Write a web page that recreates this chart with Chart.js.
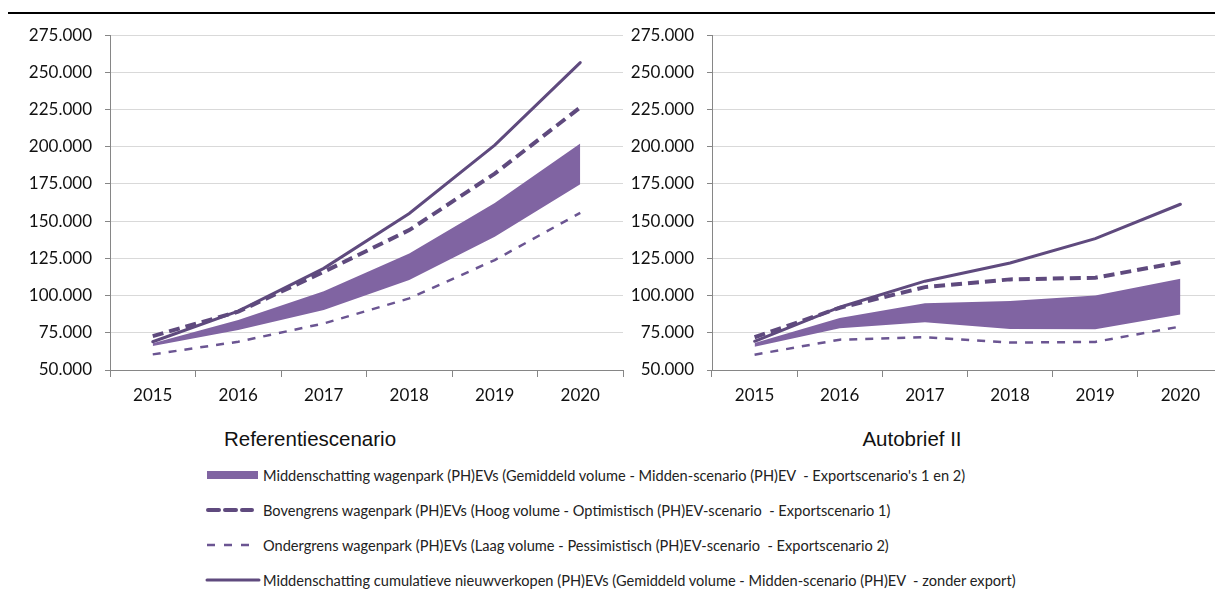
<!DOCTYPE html>
<html>
<head>
<meta charset="utf-8">
<script src="https://cdn.jsdelivr.net/npm/chart.js@4.4.1/dist/chart.umd.min.js"></script>
<style>
  html, body { margin: 0; padding: 0; background: #fff; overflow: hidden; }
  body { width: 1215px; height: 591px; position: relative; font-family: Lato, "Liberation Sans", sans-serif; }
  .topline { position: absolute; left: 8px; top: 12px; width: 1207px; height: 0; border-top: 2px solid #000; }
  canvas { position: absolute; }
  .title { position: absolute; top: 427px; font-family: "Liberation Sans", Arial, sans-serif; font-size: 20.5px; color: #111; transform: translateX(-50%); white-space: nowrap; }
  .legend { position: absolute; left: 205px; top: 463px; }
  .legend .row { position: absolute; left: 0; height: 24px; display: flex; align-items: center; white-space: pre; font-size: 14.6px; color: #222; }
  .legend svg { width: 58px; height: 14px; }
</style>
</head>
<body>
<div class="topline"></div>
<canvas id="chart-ref" width="640" height="408" style="left:0;top:12px"></canvas>
<canvas id="chart-ab" width="640" height="408" style="left:600px;top:12px"></canvas>
<div class="title" style="left:310px">Referentiescenario</div>
<div class="title" style="left:912px">Autobrief II</div>
<div class="legend" id="legend"></div>
<script>
/* global Chart */

const years = ["2015", "2016", "2017", "2018", "2019", "2020"];

// Referentiescenario
const refBandLow = [66100, 76900, 90300, 110400, 139500, 174900];
const refBandHigh = [67900, 83600, 103000, 128300, 162300, 202200];
const refUpper = [72800, 89200, 116000, 144000, 182000, 226500];
const refLower = [60500, 69000, 81300, 98100, 123900, 155600];
const refCumulative = [69000, 89600, 118300, 155200, 201100, 256600];

// Autobrief II
const abBandLow = [65700, 78100, 82100, 77600, 77400, 87300];
const abBandHigh = [68200, 85000, 94900, 96300, 100100, 111300];
const abUpper = [72000, 91800, 105700, 110900, 112000, 122500];
const abLower = [60300, 70400, 72000, 68400, 68900, 79200];
const abCumulative = [69300, 92200, 109700, 121900, 138300, 161400];

const legendLabels = [
  "Middenschatting wagenpark (PH)EVs (Gemiddeld volume - Midden-scenario (PH)EV  - Exportscenario's 1 en 2)",
  "Bovengrens wagenpark (PH)EVs (Hoog volume - Optimistisch (PH)EV-scenario  - Exportscenario 1)",
  "Ondergrens wagenpark (PH)EVs (Laag volume - Pessimistisch (PH)EV-scenario  - Exportscenario 2)",
  "Middenschatting cumulatieve nieuwverkopen (PH)EVs (Gemiddeld volume - Midden-scenario (PH)EV  - zonder export)",
];

const BAND = "#8064a2";
const LINE = "#5f4a7e";
const THIN = "#6b5592";
const AXIS = "#868686";
const GRID = "#d9d9d9";

function fmt(v) {
  return String(v).replace(/\B(?=(\d{3})+(?!\d))/g, ".");
}

function makeChart(id, low, high, upper, lower, cumul, axisWidth) {
  const ctx = document.getElementById(id).getContext("2d");
  return new Chart(ctx, {
    type: "line",
    data: {
      labels: years,
      datasets: [
        { data: low, borderWidth: 0, pointRadius: 0, fill: false, backgroundColor: BAND, borderColor: BAND },
        { data: high, borderWidth: 0, pointRadius: 0, fill: "-1", backgroundColor: BAND, borderColor: BAND },
        { data: lower, borderWidth: 2.5, borderDash: [8, 8], pointRadius: 0, fill: false, borderColor: THIN },
        { data: upper, borderWidth: 4, borderDash: [11, 6], pointRadius: 0, fill: false, borderColor: LINE },
        { data: cumul, borderWidth: 3, pointRadius: 0, fill: false, borderColor: LINE, borderCapStyle: "round" },
      ],
    },
    options: {
      responsive: false,
      animation: false,
      devicePixelRatio: 1,
      layout: { padding: { top: 10, right: 17, bottom: 0, left: 0 } },
      elements: { line: { tension: 0 } },
      plugins: { legend: { display: false }, tooltip: { enabled: false } },
      scales: {
        x: {
          offset: true,
          grid: { display: true, drawOnChartArea: false, offset: true, tickLength: 7, tickColor: AXIS },
          border: { color: AXIS },
          ticks: { padding: 8, color: "#111", font: { family: "Lato", size: 17 } },
          afterFit: (s) => { s.height = 50; },
        },
        y: {
          min: 50000,
          max: 275000,
          grid: { color: GRID, tickLength: 5, tickColor: AXIS },
          border: { color: AXIS },
          ticks: { stepSize: 25000, padding: 13, color: "#111", font: { family: "Lato", size: 17 }, callback: (v) => fmt(v) },
          afterFit: (s) => { s.width = axisWidth; },
        },
      },
    },
  });
}

makeChart("chart-ref", refBandLow, refBandHigh, refUpper, refLower, refCumulative, 110);
makeChart("chart-ab", abBandLow, abBandHigh, abUpper, abLower, abCumulative, 112);

// legend
const symbols = [
  '<svg viewBox="0 0 58 14"><rect x="2" y="3" width="51" height="8" fill="' + BAND + '"/></svg>',
  '<svg viewBox="0 0 58 14"><line x1="3" y1="7" x2="47" y2="7" stroke="' + LINE + '" stroke-width="4" stroke-dasharray="11 6" stroke-linecap="round"/></svg>',
  '<svg viewBox="0 0 58 14"><line x1="2" y1="7" x2="47" y2="7" stroke="' + THIN + '" stroke-width="2.5" stroke-dasharray="8 9"/></svg>',
  '<svg viewBox="0 0 58 14"><line x1="2" y1="7" x2="54" y2="7" stroke="' + LINE + '" stroke-width="3" stroke-linecap="round"/></svg>',
];
const legend = document.getElementById("legend");
legendLabels.forEach((txt, i) => {
  const row = document.createElement("div");
  row.className = "row";
  row.style.top = (i * 35) + "px";
  row.innerHTML = symbols[i];
  const span = document.createElement("span");
  span.textContent = txt;
  row.appendChild(span);
  legend.appendChild(row);
});
</script>
</body>
</html>
